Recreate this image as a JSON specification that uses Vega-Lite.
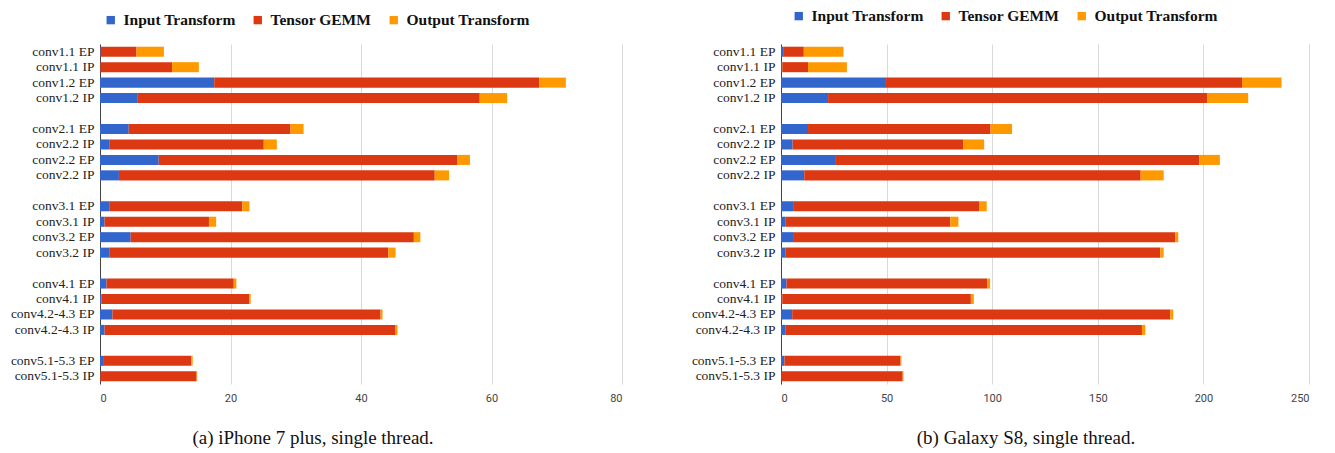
{
  "$schema": "https://vega.github.io/schema/vega-lite/v6.json",
  "background": "white",
  "padding": {"left": 5, "top": 8, "right": 5, "bottom": 5},
  "config": {
    "view": {"stroke": null},
    "font": "Liberation Serif",
    "axisX": {"grid": true, "gridColor": "#d9d9d9", "domain": false, "ticks": false, "labelFont": "Liberation Sans Narrow, Roboto, sans-serif", "labelFontSize": 11, "labelColor": "#444", "title": null, "labelPadding": 8},
    "axisY": {"grid": false, "domainColor": "#444", "ticks": false, "labelFont": "Liberation Serif", "labelFontSize": 13.5, "labelColor": "#222", "labelPadding": 6, "minExtent": 95, "maxExtent": 95, "title": null},
    "legend": {"orient": "none", "direction": "horizontal", "title": null, "symbolType": "square", "symbolSize": 70, "labelFont": "Liberation Serif", "labelFontWeight": "bold", "labelFontSize": 15.5, "labelColor": "#111", "columnPadding": 14, "labelOffset": 5, "symbolStrokeWidth": 0}
  },
  "spacing": 64,
  "resolve": {"scale": {"x": "independent", "color": "independent"}},
  "hconcat": [
    {
      "width": 522,
      "height": 340,
      "title": {"text": "(a) iPhone 7 plus, single thread.", "orient": "bottom", "anchor": "middle", "frame": "group", "dx": -48, "offset": 26, "font": "Liberation Serif", "fontSize": 19, "fontWeight": "normal", "color": "#111"},
      "data": {"values": [
        {"layer": "conv1.1 EP", "stage": "Input Transform", "ms": 0.1},
        {"layer": "conv1.1 EP", "stage": "Tensor GEMM", "ms": 5.5},
        {"layer": "conv1.1 EP", "stage": "Output Transform", "ms": 4.2},
        {"layer": "conv1.1 IP", "stage": "Input Transform", "ms": 0.05},
        {"layer": "conv1.1 IP", "stage": "Tensor GEMM", "ms": 11.0},
        {"layer": "conv1.1 IP", "stage": "Output Transform", "ms": 4.1},
        {"layer": "conv1.2 EP", "stage": "Input Transform", "ms": 17.5},
        {"layer": "conv1.2 EP", "stage": "Tensor GEMM", "ms": 49.8},
        {"layer": "conv1.2 EP", "stage": "Output Transform", "ms": 4.1},
        {"layer": "conv1.2 IP", "stage": "Input Transform", "ms": 5.8},
        {"layer": "conv1.2 IP", "stage": "Tensor GEMM", "ms": 52.4},
        {"layer": "conv1.2 IP", "stage": "Output Transform", "ms": 4.2},
        {"layer": "conv2.1 EP", "stage": "Input Transform", "ms": 4.4},
        {"layer": "conv2.1 EP", "stage": "Tensor GEMM", "ms": 24.8},
        {"layer": "conv2.1 EP", "stage": "Output Transform", "ms": 2.0},
        {"layer": "conv2.2 IP\u200b", "stage": "Input Transform", "ms": 1.5},
        {"layer": "conv2.2 IP\u200b", "stage": "Tensor GEMM", "ms": 23.6},
        {"layer": "conv2.2 IP\u200b", "stage": "Output Transform", "ms": 2.0},
        {"layer": "conv2.2 EP", "stage": "Input Transform", "ms": 9.0},
        {"layer": "conv2.2 EP", "stage": "Tensor GEMM", "ms": 45.8},
        {"layer": "conv2.2 EP", "stage": "Output Transform", "ms": 1.9},
        {"layer": "conv2.2 IP", "stage": "Input Transform", "ms": 2.9},
        {"layer": "conv2.2 IP", "stage": "Tensor GEMM", "ms": 48.4},
        {"layer": "conv2.2 IP", "stage": "Output Transform", "ms": 2.2},
        {"layer": "conv3.1 EP", "stage": "Input Transform", "ms": 1.5},
        {"layer": "conv3.1 EP", "stage": "Tensor GEMM", "ms": 20.3},
        {"layer": "conv3.1 EP", "stage": "Output Transform", "ms": 1.1},
        {"layer": "conv3.1 IP", "stage": "Input Transform", "ms": 0.7},
        {"layer": "conv3.1 IP", "stage": "Tensor GEMM", "ms": 16.0},
        {"layer": "conv3.1 IP", "stage": "Output Transform", "ms": 1.1},
        {"layer": "conv3.2 EP", "stage": "Input Transform", "ms": 4.7},
        {"layer": "conv3.2 EP", "stage": "Tensor GEMM", "ms": 43.4},
        {"layer": "conv3.2 EP", "stage": "Output Transform", "ms": 1.0},
        {"layer": "conv3.2 IP", "stage": "Input Transform", "ms": 1.5},
        {"layer": "conv3.2 IP", "stage": "Tensor GEMM", "ms": 42.7},
        {"layer": "conv3.2 IP", "stage": "Output Transform", "ms": 1.1},
        {"layer": "conv4.1 EP", "stage": "Input Transform", "ms": 1.0},
        {"layer": "conv4.1 EP", "stage": "Tensor GEMM", "ms": 19.5},
        {"layer": "conv4.1 EP", "stage": "Output Transform", "ms": 0.4},
        {"layer": "conv4.1 IP", "stage": "Input Transform", "ms": 0.2},
        {"layer": "conv4.1 IP", "stage": "Tensor GEMM", "ms": 22.7},
        {"layer": "conv4.1 IP", "stage": "Output Transform", "ms": 0.2},
        {"layer": "conv4.2-4.3 EP", "stage": "Input Transform", "ms": 1.9},
        {"layer": "conv4.2-4.3 EP", "stage": "Tensor GEMM", "ms": 41.1},
        {"layer": "conv4.2-4.3 EP", "stage": "Output Transform", "ms": 0.3},
        {"layer": "conv4.2-4.3 IP", "stage": "Input Transform", "ms": 0.7},
        {"layer": "conv4.2-4.3 IP", "stage": "Tensor GEMM", "ms": 44.6},
        {"layer": "conv4.2-4.3 IP", "stage": "Output Transform", "ms": 0.3},
        {"layer": "conv5.1-5.3 EP", "stage": "Input Transform", "ms": 0.6},
        {"layer": "conv5.1-5.3 EP", "stage": "Tensor GEMM", "ms": 13.4},
        {"layer": "conv5.1-5.3 EP", "stage": "Output Transform", "ms": 0.2},
        {"layer": "conv5.1-5.3 IP", "stage": "Input Transform", "ms": 0.05},
        {"layer": "conv5.1-5.3 IP", "stage": "Tensor GEMM", "ms": 14.75},
        {"layer": "conv5.1-5.3 IP", "stage": "Output Transform", "ms": 0.1}
      ]},
      "transform": [{"calculate": "indexof(['Input Transform', 'Tensor GEMM', 'Output Transform'], datum.stage)", "as": "stageOrder"}],
      "mark": {"type": "bar"},
      "encoding": {
        "y": {"field": "layer", "type": "nominal",
          "scale": {"domain": ["conv1.1 EP", "conv1.1 IP", "conv1.2 EP", "conv1.2 IP", " ", "conv2.1 EP", "conv2.2 IP\u200b", "conv2.2 EP", "conv2.2 IP", "  ", "conv3.1 EP", "conv3.1 IP", "conv3.2 EP", "conv3.2 IP", "   ", "conv4.1 EP", "conv4.1 IP", "conv4.2-4.3 EP", "conv4.2-4.3 IP", "    ", "conv5.1-5.3 EP", "conv5.1-5.3 IP"], "paddingInner": 0.35, "paddingOuter": 0.175}},
        "x": {"field": "ms", "type": "quantitative", "stack": "zero", "scale": {"domain": [0, 80], "nice": false}, "axis": {"values": [0, 20, 40, 60, 80]}},
        "order": {"field": "stageOrder", "type": "quantitative", "sort": "ascending"},
        "color": {"field": "stage", "type": "nominal", "sort": ["Input Transform", "Tensor GEMM", "Output Transform"],
          "scale": {"domain": ["Input Transform", "Tensor GEMM", "Output Transform"], "range": ["#3366CC", "#DC3912", "#FF9900"]},
          "legend": {"legendX": 3, "legendY": -32}}
      }
    },
    {
      "width": 528,
      "height": 340,
      "title": {"text": "(b) Galaxy S8, single thread.", "orient": "bottom", "anchor": "middle", "frame": "group", "dx": -19, "offset": 26, "font": "Liberation Serif", "fontSize": 19, "fontWeight": "normal", "color": "#111"},
      "data": {"values": [
        {"layer": "conv1.1 EP", "stage": "Input Transform", "ms": 1.0},
        {"layer": "conv1.1 EP", "stage": "Tensor GEMM", "ms": 9.8},
        {"layer": "conv1.1 EP", "stage": "Output Transform", "ms": 18.8},
        {"layer": "conv1.1 IP", "stage": "Input Transform", "ms": 0.6},
        {"layer": "conv1.1 IP", "stage": "Tensor GEMM", "ms": 12.2},
        {"layer": "conv1.1 IP", "stage": "Output Transform", "ms": 18.4},
        {"layer": "conv1.2 EP", "stage": "Input Transform", "ms": 49.7},
        {"layer": "conv1.2 EP", "stage": "Tensor GEMM", "ms": 168.6},
        {"layer": "conv1.2 EP", "stage": "Output Transform", "ms": 18.7},
        {"layer": "conv1.2 IP", "stage": "Input Transform", "ms": 22.3},
        {"layer": "conv1.2 IP", "stage": "Tensor GEMM", "ms": 179.4},
        {"layer": "conv1.2 IP", "stage": "Output Transform", "ms": 19.5},
        {"layer": "conv2.1 EP", "stage": "Input Transform", "ms": 12.8},
        {"layer": "conv2.1 EP", "stage": "Tensor GEMM", "ms": 86.4},
        {"layer": "conv2.1 EP", "stage": "Output Transform", "ms": 10.2},
        {"layer": "conv2.2 IP\u200b", "stage": "Input Transform", "ms": 5.5},
        {"layer": "conv2.2 IP\u200b", "stage": "Tensor GEMM", "ms": 80.9},
        {"layer": "conv2.2 IP\u200b", "stage": "Output Transform", "ms": 9.8},
        {"layer": "conv2.2 EP", "stage": "Input Transform", "ms": 26.0},
        {"layer": "conv2.2 EP", "stage": "Tensor GEMM", "ms": 172.0},
        {"layer": "conv2.2 EP", "stage": "Output Transform", "ms": 9.8},
        {"layer": "conv2.2 IP", "stage": "Input Transform", "ms": 11.0},
        {"layer": "conv2.2 IP", "stage": "Tensor GEMM", "ms": 159.3},
        {"layer": "conv2.2 IP", "stage": "Output Transform", "ms": 10.9},
        {"layer": "conv3.1 EP", "stage": "Input Transform", "ms": 6.1},
        {"layer": "conv3.1 EP", "stage": "Tensor GEMM", "ms": 87.9},
        {"layer": "conv3.1 EP", "stage": "Output Transform", "ms": 3.4},
        {"layer": "conv3.1 IP", "stage": "Input Transform", "ms": 2.0},
        {"layer": "conv3.1 IP", "stage": "Tensor GEMM", "ms": 78.2},
        {"layer": "conv3.1 IP", "stage": "Output Transform", "ms": 3.8},
        {"layer": "conv3.2 EP", "stage": "Input Transform", "ms": 5.7},
        {"layer": "conv3.2 EP", "stage": "Tensor GEMM", "ms": 181.0},
        {"layer": "conv3.2 EP", "stage": "Output Transform", "ms": 1.4},
        {"layer": "conv3.2 IP", "stage": "Input Transform", "ms": 2.0},
        {"layer": "conv3.2 IP", "stage": "Tensor GEMM", "ms": 177.6},
        {"layer": "conv3.2 IP", "stage": "Output Transform", "ms": 1.6},
        {"layer": "conv4.1 EP", "stage": "Input Transform", "ms": 2.6},
        {"layer": "conv4.1 EP", "stage": "Tensor GEMM", "ms": 95.0},
        {"layer": "conv4.1 EP", "stage": "Output Transform", "ms": 1.4},
        {"layer": "conv4.1 IP", "stage": "Input Transform", "ms": 0.6},
        {"layer": "conv4.1 IP", "stage": "Tensor GEMM", "ms": 89.3},
        {"layer": "conv4.1 IP", "stage": "Output Transform", "ms": 1.4},
        {"layer": "conv4.2-4.3 EP", "stage": "Input Transform", "ms": 5.3},
        {"layer": "conv4.2-4.3 EP", "stage": "Tensor GEMM", "ms": 179.0},
        {"layer": "conv4.2-4.3 EP", "stage": "Output Transform", "ms": 1.4},
        {"layer": "conv4.2-4.3 IP", "stage": "Input Transform", "ms": 2.0},
        {"layer": "conv4.2-4.3 IP", "stage": "Tensor GEMM", "ms": 168.9},
        {"layer": "conv4.2-4.3 IP", "stage": "Output Transform", "ms": 1.6},
        {"layer": "conv5.1-5.3 EP", "stage": "Input Transform", "ms": 1.6},
        {"layer": "conv5.1-5.3 EP", "stage": "Tensor GEMM", "ms": 55.0},
        {"layer": "conv5.1-5.3 EP", "stage": "Output Transform", "ms": 0.4},
        {"layer": "conv5.1-5.3 IP", "stage": "Input Transform", "ms": 0.4},
        {"layer": "conv5.1-5.3 IP", "stage": "Tensor GEMM", "ms": 57.2},
        {"layer": "conv5.1-5.3 IP", "stage": "Output Transform", "ms": 0.4}
      ]},
      "transform": [{"calculate": "indexof(['Input Transform', 'Tensor GEMM', 'Output Transform'], datum.stage)", "as": "stageOrder"}],
      "mark": {"type": "bar"},
      "encoding": {
        "y": {"field": "layer", "type": "nominal",
          "scale": {"domain": ["conv1.1 EP", "conv1.1 IP", "conv1.2 EP", "conv1.2 IP", " ", "conv2.1 EP", "conv2.2 IP\u200b", "conv2.2 EP", "conv2.2 IP", "  ", "conv3.1 EP", "conv3.1 IP", "conv3.2 EP", "conv3.2 IP", "   ", "conv4.1 EP", "conv4.1 IP", "conv4.2-4.3 EP", "conv4.2-4.3 IP", "    ", "conv5.1-5.3 EP", "conv5.1-5.3 IP"], "paddingInner": 0.35, "paddingOuter": 0.175}},
        "x": {"field": "ms", "type": "quantitative", "stack": "zero", "scale": {"domain": [0, 250], "nice": false}, "axis": {"values": [0, 50, 100, 150, 200, 250]}},
        "order": {"field": "stageOrder", "type": "quantitative", "sort": "ascending"},
        "color": {"field": "stage", "type": "nominal", "sort": ["Input Transform", "Tensor GEMM", "Output Transform"],
          "scale": {"domain": ["Input Transform", "Tensor GEMM", "Output Transform"], "range": ["#3366CC", "#DC3912", "#FF9900"]},
          "legend": {"legendX": 10, "legendY": -36}}
      }
    }
  ]
}
